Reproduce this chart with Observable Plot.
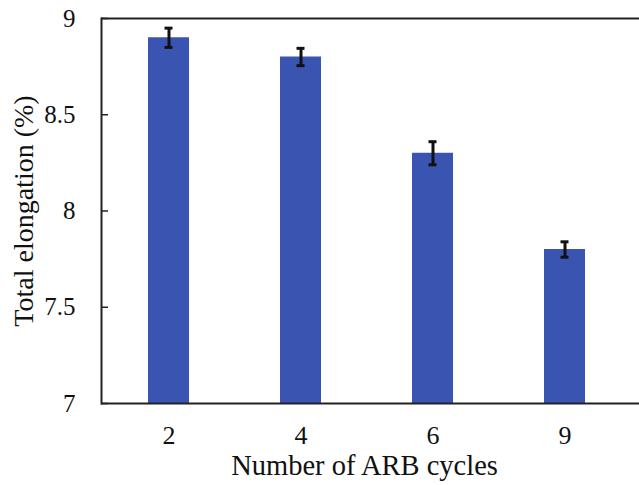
<!DOCTYPE html>
<html>
<head>
<meta charset="utf-8">
<script src="https://cdn.jsdelivr.net/npm/d3@7"></script>
<script src="https://cdn.jsdelivr.net/npm/@observablehq/plot@0.6"></script>
<style>
  html, body { margin: 0; padding: 0; background: #fff; }
  svg { display: block; }
</style>
</head>
<body>
<div id="chart"></div>
<script>
const cycles = ["2", "4", "6", "9"];
const elongation = [8.9, 8.8, 8.3, 7.8];
const errors = [0.05, 0.045, 0.06, 0.04];
const yTicks = [7, 7.5, 8, 8.5, 9];

const data = cycles.map((c, i) => ({cycle: c, value: elongation[i], err: errors[i]}));

const font = "'Liberation Serif', 'Times New Roman', serif";

const chart = Plot.plot({
  width: 639,
  height: 485,
  marginLeft: 101,
  marginRight: 0,
  marginTop: 18,
  marginBottom: 82,
  style: {fontFamily: font, fontSize: "26px", color: "#111", background: "#fff"},
  x: {domain: cycles, range: [101, 632], paddingInner: 0.69, paddingOuter: 0.345, align: 0.5, label: null},
  y: {domain: [7, 9], label: null},
  marks: [
    Plot.barY(data, {x: "cycle", y1: 7, y2: "value", fill: "#3a55b1"}),
    Plot.ruleX(data, {x: "cycle", y1: d => d.value - d.err, y2: d => d.value + d.err, stroke: "#111", strokeWidth: 3}),
    Plot.tickY(data, {x: "cycle", y: d => d.value - d.err, stroke: "#111", strokeWidth: 3, insetLeft: 16.5, insetRight: 16.5}),
    Plot.tickY(data, {x: "cycle", y: d => d.value + d.err, stroke: "#111", strokeWidth: 3, insetLeft: 16.5, insetRight: 16.5}),
    Plot.ruleY([7, 9], {stroke: "#222", strokeWidth: 2}),
    Plot.frame({anchor: "left", stroke: "#222", strokeWidth: 2}),
    Plot.axisY({ticks: yTicks, tickSize: -7, tickPadding: 33, tickFormat: d => String(d), stroke: "#222", strokeWidth: 1.5, fontSize: 25, label: null}),
    Plot.axisX({tickSize: 0, tickPadding: 22, fontSize: 26, label: null}),
    Plot.text(["Number of ARB cycles"], {frameAnchor: "bottom", dy: 71, dx: -6, fontSize: 28.5, fill: "#111", text: d => d}),
    Plot.text(["Total elongation (%)"], {frameAnchor: "left", dx: -77, rotate: -90, textAnchor: "middle", fontSize: 28, fill: "#111", text: d => d})
  ]
});
document.getElementById("chart").append(chart);
</script>
</body>
</html>
